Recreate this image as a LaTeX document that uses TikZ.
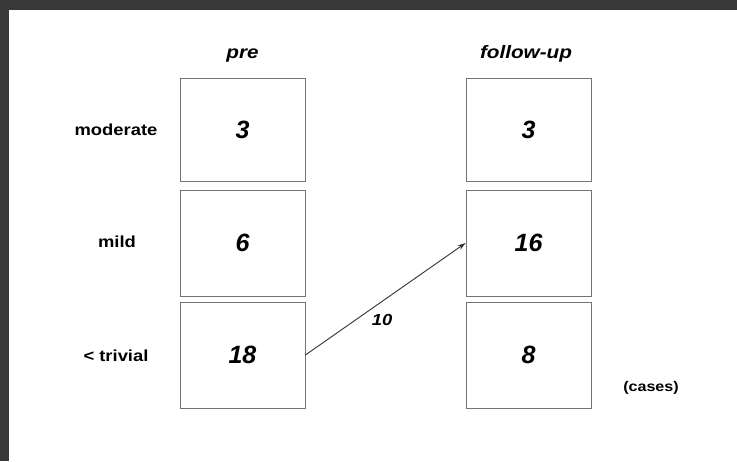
\documentclass[tikz,border=0pt]{standalone}
\usepackage{fontspec}
\setmainfont{Liberation Sans}
\newfontfamily\wf[FakeStretch=1.15]{Liberation Sans}
\usetikzlibrary{arrows.meta}
\begin{document}
\begin{tikzpicture}[x=1pt,y=-1pt,
  cell/.style={draw=black!55, line width=0.8pt, minimum width=125pt, inner sep=0pt,
    font=\bfseries\itshape\fontsize{25}{25}\selectfont},
  lab/.style={anchor=base, inner sep=0pt, font=\wf\bfseries\fontsize{16}{16}\selectfont},
  head/.style={anchor=base, inner sep=0pt, font=\wf\bfseries\itshape\fontsize{18}{18}\selectfont},
  band/.style={fill=black!78, draw=none},
  link/.style={draw=black!80, line width=0.9pt, -{Stealth[length=8pt,width=5pt]}},
]
\useasboundingbox (0,0) rectangle (737,461);
\fill[white] (0,0) rectangle (737,461);
\path[band] (0,0) rectangle (737,10);
\path[band] (0,0) rectangle (9,461);

% headings
\node[head] (hpre) at (242.5,58) {pre};
\node[head] (hfol) at (526,58) {follow-up};

% row labels
\node[lab] (lmod) at (116,135) {moderate};
\node[lab] (lmild) at (117,247) {mild};
\node[lab] (ltriv) at (116,361) {< trivial};

% boxes
\node[cell, minimum height=103pt] (p1) at (242.5,129.5) {3};
\node[cell, minimum height=106pt] (p2) at (242.5,243) {6};
\node[cell, minimum height=106pt] (p3) at (242.5,355) {18};
\node[cell, minimum height=103pt] (f1) at (528.5,129.5) {3};
\node[cell, minimum height=106pt] (f2) at (528.5,243) {16};
\node[cell, minimum height=106pt] (f3) at (528.5,355) {8};

% transition
\draw[link] (p3.east) -- (f2.west);
\node[anchor=base, inner sep=0pt, font=\wf\bfseries\itshape\fontsize{16}{16}\selectfont] (n10) at (382,325) {10};

\node[lab, font=\wf\bfseries\fontsize{14}{14}\selectfont] (cases) at (651,391) {(cases)};
\end{tikzpicture}
\end{document}
